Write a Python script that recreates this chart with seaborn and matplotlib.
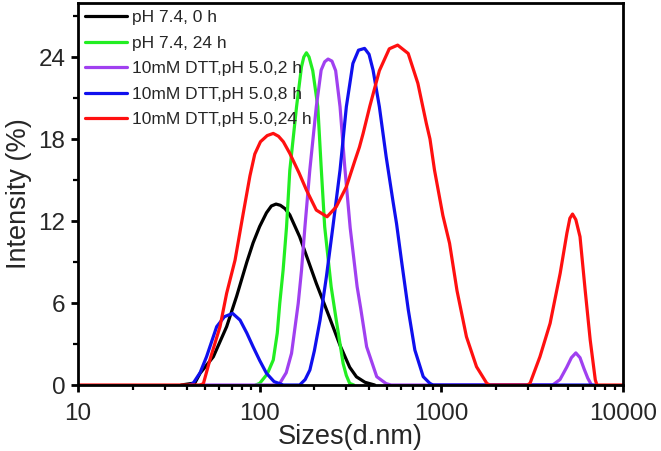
import matplotlib
matplotlib.use("Agg")
import matplotlib.pyplot as plt
import seaborn as sns
from matplotlib.ticker import FixedLocator, LogLocator, MultipleLocator, NullFormatter

# DLS size distributions
labels = [
    "pH 7.4, 0 h",
    "pH 7.4, 24 h",
    "10mM DTT,pH 5.0,2 h",
    "10mM DTT,pH 5.0,8 h",
    "10mM DTT,pH 5.0,24 h",
]
colors = ["#000000", "#22ee22", "#a040f0", "#1010ee", "#ff1010"]

black_size = [37, 44, 47, 55.6, 65.8, 74.7, 85, 92, 100, 109, 116, 123, 130, 138, 146.5,
              166, 185, 205, 243, 277, 313, 341, 380, 430]
black_int = [0, 0.15, 0.86, 2.07, 4.27, 6.5, 9.0, 10.4, 11.6, 12.6, 13.1, 13.24, 13.15,
             12.9, 12.45, 10.85, 9.1, 7.44, 4.9, 2.9, 1.3, 0.6, 0.2, 0]

green_size = [95, 100, 110, 118.8, 125, 129, 134.6, 140.6, 146.5, 159.6, 169.9, 175,
              180.9, 187, 196, 209, 218, 228, 247.5, 264, 288, 300, 313, 330]
green_int = [0, 0.12, 0.8, 1.83, 3.8, 5.97, 8.4, 11.58, 15.7, 20.36, 23.28, 24.0,
             24.31, 24.0, 23.0, 20.36, 15.97, 11.58, 7.19, 4.75, 1.58, 0.7, 0.12, 0]

purple_size = [47, 125, 129, 140, 149.8, 163, 170, 177.5, 188.8, 205, 218, 228, 238, 250,
               262, 277, 294, 315, 344, 360, 388, 441, 497, 530, 4100, 4500, 4900, 5200,
               5500, 5800, 6100, 6400, 6710]
purple_int = [0, 0, 0.12, 0.9, 2.32, 5.97, 8.4, 11.58, 15.73, 20.36, 23.04, 23.65, 23.85,
              23.7, 23.0, 20.36, 15.97, 11.5, 7.19, 5.6, 2.8, 0.61, 0.1, 0, 0, 0.4, 1.3,
              2.0, 2.35, 2.0, 1.2, 0.5, 0]

blue_size = [41, 43, 47, 51, 58, 64, 71, 78, 85, 92, 100, 109, 120, 135, 166, 178, 189,
             200, 215, 233, 253, 277, 300, 326, 350, 378, 400, 421, 456, 497, 541, 567,
             605, 658, 715, 795, 865, 900, 7200]
blue_int = [0, 0.12, 0.9, 2.07, 4.27, 5.0, 5.24, 4.75, 3.8, 2.8, 1.8, 0.86, 0.25, 0, 0,
            0.4, 1.1, 2.5, 4.75, 7.92, 11.58, 15.73, 20.36, 23.53, 24.5, 24.63, 24.2,
            23.04, 20.36, 16.7, 13.5, 11.8, 9.0, 5.49, 2.56, 0.61, 0.12, 0, 0]

red_size = [10, 47, 49, 53.2, 60.5, 65.8, 73.2, 81.2, 88.4, 94, 101, 110, 118.8, 127, 135,
            146.5, 165, 181, 205, 235, 264, 300, 334, 354, 371, 404, 456, 517, 575, 657,
            743, 827, 866, 917, 1020, 1110, 1220, 1375, 1562, 1780, 1850, 2970, 3077,
            3490, 3970, 4510, 4910, 5100, 5275, 5500, 5800, 6190, 6600, 7040, 7190, 10000]
red_int = [0, 0, 0.1, 1.83, 4.27, 6.71, 9.14, 12.56, 15.3, 16.9, 17.8, 18.25, 18.41, 18.2,
           17.8, 16.95, 15.5, 14.26, 12.8, 12.31, 13.04, 14.5, 16.4, 17.4, 18.4, 20.4,
           23.0, 24.6, 24.87, 24.26, 22.07, 19.14, 18.0, 15.73, 12.4, 10.37, 6.9, 3.53,
           1.34, 0.12, 0, 0, 0.12, 2.07, 4.51, 8.17, 11.1, 12.2, 12.51, 12.1, 10.85, 6.95,
           3.29, 0.37, 0, 0]

series = [
    (black_size, black_int),
    (green_size, green_int),
    (purple_size, purple_int),
    (blue_size, blue_int),
    (red_size, red_int),
]

sns.set_theme(style="ticks")
plt.rcParams["font.family"] = ["Liberation Sans", "DejaVu Sans"]

fig = plt.figure(figsize=(6.61, 4.51), dpi=100)
ax = fig.add_axes([0.118, 0.1463, 0.8245, 0.847])

for (xs, ys), lbl, col in zip(series, labels, colors):
    sns.lineplot(x=xs, y=ys, color=col, label=lbl, lw=2.3, sort=False,
                 estimator=None, solid_joinstyle="round", ax=ax)

ax.set_xscale("log")
ax.set_xlim(10, 10000)
ax.set_ylim(0, 27.95)

ax.xaxis.set_major_locator(FixedLocator([10, 100, 1000, 10000]))
ax.xaxis.set_minor_locator(LogLocator(base=10, subs=range(2, 10)))
ax.xaxis.set_minor_formatter(NullFormatter())
ax.set_xticklabels(["10", "100", "1000", "10000"])
ax.yaxis.set_major_locator(MultipleLocator(6))
ax.yaxis.set_minor_locator(MultipleLocator(3))

for side in ["left", "right", "top", "bottom"]:
    ax.spines[side].set_linewidth(2)
    ax.spines[side].set_color("black")

ax.tick_params(axis="both", which="major", direction="out", length=5, width=2,
               labelsize=17.5, color="black")
ax.tick_params(axis="both", which="minor", direction="out", length=3.5, width=1.6,
               color="black")
ax.tick_params(axis="x", which="major", pad=8)
ax.tick_params(axis="y", which="major", pad=4)

ax.set_xlabel("Sizes(d.nm)", fontsize=19.5, labelpad=-1)
ax.set_ylabel("Intensity (%)", fontsize=19.5, labelpad=5)

ax.legend(loc="upper left", bbox_to_anchor=(0, 1.0), frameon=False, fontsize=12.5,
          handlelength=2.4, handletextpad=0.3, labelspacing=0.6, borderaxespad=0.0,
          borderpad=0.4)

fig.savefig("out.png", dpi=100)
